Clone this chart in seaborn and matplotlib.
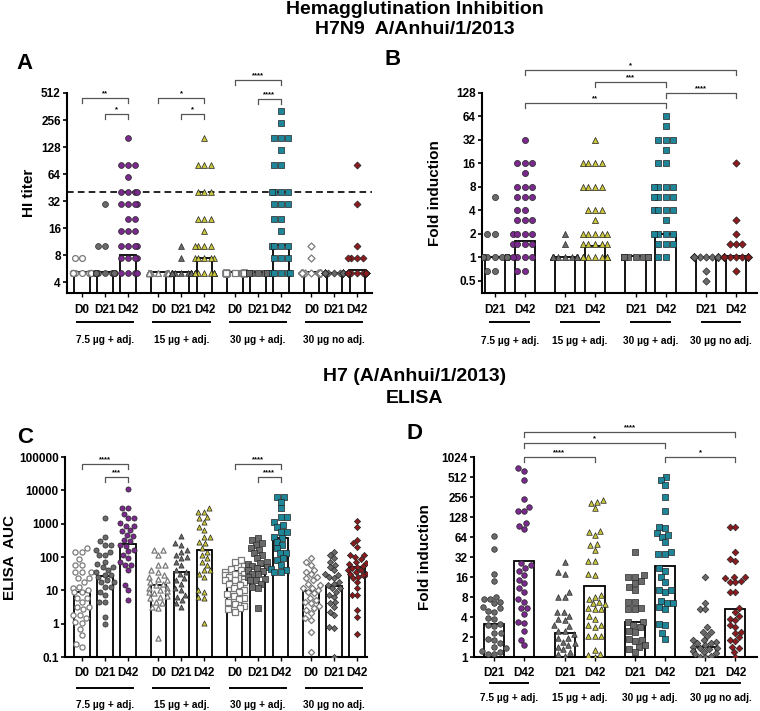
import warnings
import numpy as np
import matplotlib.pyplot as plt
import seaborn as sns
from matplotlib import transforms

warnings.filterwarnings("ignore")

GROUPS = ["7.5 µg + adj.", "15 µg + adj.", "30 µg + adj.", "30 µg no adj."]
DAYS_ABC = ["D0", "D21", "D42"]
DAYS_FOLD = ["D21", "D42"]

# ---- panel A: HI titer ----
hi_75_d0 = [7.5, 7.5, 5, 5, 5, 5, 5, 5, 5, 5, 5, 5, 5, 5, 5, 5, 5, 5, 5, 5, 5, 5, 5, 5, 5, 5, 5, 5, 5, 5]
hi_75_d21 = [30, 10, 10, 5, 5, 5, 5, 5, 5, 5, 5, 5, 5, 5, 5, 5, 5, 5, 5, 5, 5, 5, 5, 5, 5, 5, 5, 5, 5, 5]
hi_75_d42 = [160, 80, 80, 80, 60, 40, 40, 40, 40, 30, 30, 30, 30, 20, 20, 15, 15, 15, 10, 10,
             10, 10, 7.5, 7.5, 7.5, 7.5, 5, 5, 5, 5]
hi_15_d0 = [5, 5, 5, 5, 5, 5, 5, 5, 5, 5, 5, 5, 5, 5, 5, 5, 5, 5, 5, 5, 5, 5, 5, 5, 5, 5, 5, 5, 5, 5]
hi_15_d21 = [10, 7.5, 5, 5, 5, 5, 5, 5, 5, 5, 5, 5, 5, 5, 5, 5, 5, 5, 5, 5, 5, 5, 5, 5, 5, 5, 5, 5, 5, 5]
hi_15_d42 = [160, 80, 80, 80, 40, 40, 40, 20, 20, 20, 15, 10, 10, 10, 10, 7.5, 7.5, 7.5, 7.5, 7.5,
             5, 5, 5, 5, 5, 5, 5, 5, 5, 5]
hi_30_d0 = [5, 5, 5, 5, 5, 5, 5, 5, 5, 5, 5, 5, 5, 5, 5, 5, 5, 5, 5, 5, 5, 5, 5, 5, 5, 5, 5, 5, 5, 5]
hi_30_d21 = [5, 5, 5, 5, 5, 5, 5, 5, 5, 5, 5, 5, 5, 5, 5, 5, 5, 5, 5, 5, 5, 5, 5, 5, 5, 5, 5, 5, 5, 5]
hi_30_d42 = [320, 240, 160, 160, 160, 120, 80, 80, 40, 40, 40, 40, 30, 30, 30, 20, 20, 15, 10, 10,
             10, 10, 7.5, 7.5, 7.5, 5, 5, 5, 5, 5]
hi_30n_d0 = [10, 7.5, 5, 5, 5, 5, 5, 5, 5, 5, 5, 5, 5, 5, 5, 5, 5, 5, 5, 5, 5, 5, 5, 5, 5, 5, 5, 5, 5, 5]
hi_30n_d21 = [5, 5, 5, 5, 5, 5, 5, 5, 5, 5, 5, 5, 5, 5, 5, 5, 5, 5, 5, 5, 5, 5, 5, 5, 5, 5, 5, 5, 5, 5]
hi_30n_d42 = [80, 30, 10, 7.5, 7.5, 7.5, 7.5, 5, 5, 5, 5, 5, 5, 5, 5, 5, 5, 5, 5, 5, 5, 5, 5, 5, 5, 5, 5, 5, 5, 5]
hi_bars = [5.2, 5.2, 8, 5.2, 5.2, 7.4, 5.2, 5.2, 10.5, 5.2, 5.1, 5.5]

# ---- panel B: HI fold induction ----
hif_75_d21 = [6, 2, 2, 1, 1, 1, 1, 1, 1, 1, 1, 1, 1, 1, 1, 1, 1, 1, 1, 1, 1, 1, 1, 1, 1, 1, 1, 1, 0.67, 0.67]
hif_75_d42 = [32, 16, 16, 16, 12, 8, 8, 8, 6, 6, 6, 4, 4, 3, 3, 3, 2, 2, 2, 2, 1.5, 1.5, 1.5, 1.5,
              1, 1, 1, 1, 0.67, 0.67]
hif_15_d21 = [2, 1.5, 1, 1, 1, 1, 1, 1, 1, 1, 1, 1, 1, 1, 1, 1, 1, 1, 1, 1, 1, 1, 1, 1, 1, 1, 1, 1, 1, 1]
hif_15_d42 = [32, 16, 16, 16, 16, 8, 8, 8, 8, 4, 4, 4, 3, 2, 2, 2, 2, 2, 1.5, 1.5, 1.5, 1.5, 1.5,
              1, 1, 1, 1, 1, 1, 1]
hif_30_d21 = [1, 1, 1, 1, 1, 1, 1, 1, 1, 1, 1, 1, 1, 1, 1, 1, 1, 1, 1, 1, 1, 1, 1, 1, 1, 1, 1, 1, 1, 1]
hif_30_d42 = [64, 48, 32, 32, 32, 24, 16, 16, 8, 8, 8, 8, 6, 6, 6, 6, 4, 4, 4, 4, 3, 2, 2, 2, 2,
              1.5, 1.5, 1.5, 1, 1]
hif_30n_d21 = [1, 1, 1, 1, 1, 1, 1, 1, 1, 1, 1, 1, 1, 1, 1, 1, 1, 1, 1, 1, 1, 1, 1, 1, 1, 1, 1, 1, 0.67, 0.5]
hif_30n_d42 = [16, 3, 2, 1.5, 1.5, 1.5, 1, 1, 1, 1, 1, 1, 1, 1, 1, 1, 1, 1, 1, 1, 1, 1, 1, 1, 1, 1, 1, 1, 1, 0.67]
hif_bars = [1.0, 1.6, 1.0, 1.4, 1.03, 2.0, 1.0, 1.05]

# ---- panel C: ELISA AUC ----
el_75_d0 = [190, 145, 138, 85, 58, 58, 35, 35, 35, 24, 23, 18, 12, 13, 10, 8.7, 8.7, 5.8, 5.8, 4.4,
            3.2, 3.2, 2.7, 1.8, 1.8, 1.5, 1.15, 1.07, 0.7, 0.46, 0.2, 0.24]
el_75_d21 = [1500, 410, 300, 230, 230, 160, 145, 115, 115, 72, 60, 51, 50, 41, 35, 29, 29, 25, 20,
             18, 18, 13, 13, 9.1, 7.2, 4.6, 4.6, 1.6, 1.0]
el_75_d42 = [10700, 3000, 3000, 2000, 1450, 1450, 1020, 870, 870, 650, 600, 460, 430, 320, 300, 230,
             220, 160, 150, 115, 91, 72, 58, 58, 41, 14, 10, 5.1]
el_15_d0 = [162, 162, 115, 58, 58, 41, 36, 29, 26, 22, 20, 18, 15, 14.5, 12, 11.5, 10.2, 9.5, 9.1,
            8.1, 7, 6.5, 5.75, 4.6, 4.1, 3.2, 2.9, 0.38]
el_15_d21 = [430, 257, 230, 162, 145, 115, 102, 91, 72, 58, 41, 36, 32, 23, 20, 16, 11.5, 10.2,
             7.2, 6.5, 5.1, 4.1, 3.2]
el_15_d42 = [2880, 2290, 2290, 1620, 1450, 1150, 810, 650, 410, 410, 290, 257, 182, 145, 115, 91,
             72, 58, 41, 41, 32, 26, 10.2, 9.1, 6.5, 5.75, 1.02]
el_30_d0 = [80, 70, 55, 45, 40, 36, 32, 30, 28, 26, 24, 22, 20, 20, 18, 16, 14, 12, 10, 9, 8, 7,
            6, 5.5, 4.6, 4, 3.5, 3, 2.7, 2.3]
el_30_d21 = [380, 324, 257, 230, 182, 162, 129, 115, 91, 72, 65, 60, 55, 51, 46, 41, 38, 32, 30,
             26, 22, 20, 20, 16, 13, 11.5, 2.9]
el_30_d42 = [6460, 6460, 4570, 2880, 1620, 1620, 1150, 910, 810, 575, 575, 410, 363, 290, 230, 182,
             129, 129, 91, 81, 58, 45, 40, 35, 35]
el_30n_d0 = [95, 72, 58, 41, 36, 30, 26, 23, 20, 16, 14, 12, 11.5, 10.2, 9, 8.1, 6, 5, 4.6, 4.1,
             3.5, 2.9, 2.6, 2.05, 1.45, 1.3, 0.55, 0.14]
el_30n_d21 = [145, 115, 91, 72, 58, 50, 41, 32, 29, 25, 23, 18, 16, 14, 11.5, 11.5, 9, 7.2, 6.5,
              4.6, 4.1, 3.2, 2.3, 1.8, 0.78, 0.72, 0.1]
el_30n_d42 = [1200, 810, 324, 257, 204, 115, 115, 100, 90, 72, 65, 60, 55, 51, 46, 40, 40, 36, 32,
              30, 28, 26, 23, 18, 11.5, 7.2, 7.2, 2.6, 1.6, 0.5]
el_bars = [9.1, 27, 240, 14, 35, 160, 37, 55, 380, 9.6, 13.5, 49]

# ---- panel D: ELISA fold induction ----
elf_75_d21 = [67, 43, 18, 14, 8.1, 7.6, 7.6, 6.8, 6.4, 5.7, 5.4, 4.9, 4.8, 3.9, 3.8, 3.1, 3.0, 2.9,
              2.3, 2.3, 1.9, 1.8, 1.6, 1.43, 1.35, 1.23, 1.2, 1.13, 1.13]
elf_75_d42 = [690, 630, 460, 236, 183, 158, 158, 103, 95, 84, 25.7, 24, 21.6, 19.7, 17, 14.4, 12.8,
              10.8, 9.6, 7.6, 6.8, 5.5, 5.4, 4.5, 3.4, 3.2, 2.5, 1.8, 1.5]
elf_15_d21 = [27, 19, 18, 9.4, 8.1, 8.1, 4.8, 4.8, 4.2, 3.8, 3.6, 3.0, 2.9, 2.5, 2.5, 2.2, 1.95,
              1.95, 1.7, 1.6, 1.5, 1.43, 1.3, 1.2, 1.1, 1.05]
elf_15_d42 = [231, 218, 206, 173, 79, 77, 69, 51, 48.5, 41, 28, 28, 18, 17, 8.6, 8.1, 7.6, 6.8, 6.4,
              6.2, 5.4, 5.2, 5.2, 4.2, 3.8, 3.0, 3.0, 2.8, 2.1, 2.1, 2.1, 1.27, 1.13, 1.07, 1.01]
elf_30_d21 = [38, 17, 16, 16, 14, 12.8, 11.4, 10.2, 6.8, 6.8, 5.4, 5.2, 5.2, 3.4, 3.4, 3.0, 2.8,
              2.5, 2.4, 1.9, 1.8, 1.75, 1.5, 1.43, 1.3, 1.2]
elf_30_d42 = [518, 460, 388, 259, 158, 92, 88, 73, 69, 64, 53, 38.5, 35, 35, 22, 20, 16, 13.6,
              10.2, 10.2, 9.6, 7.0, 6.6, 6.4, 5.6, 5.2, 3.1, 3.0, 2.3, 1.9]
elf_30n_d21 = [16, 6.4, 5.2, 5.2, 2.8, 2.4, 2.4, 2.1, 1.8, 1.8, 1.7, 1.6, 1.6, 1.5, 1.43, 1.35,
               1.35, 1.3, 1.25, 1.2, 1.15, 1.1, 1.05, 1.0, 1.0]
elf_30n_d42 = [92, 92, 38.5, 30, 28, 16, 16, 15.3, 14, 13.6, 13.3, 9.4, 9.4, 5.4, 4.8, 4.2, 3.8,
               3.6, 3.0, 2.8, 2.4, 2.3, 2.0, 1.8, 1.75, 1.43, 1.35, 1.2, 1.0]
elf_bars = [3.1, 28, 2.3, 11.7, 3.4, 23.7, 1.41, 5.2]

GROUP_MARKERS = ["o", "^", "s", "D"]
GROUP_COLORS = ["#7a2a8c", "#c9c63c", "#1d8799", "#8c1a1e"]
MID_GRAY = "#6a6a6a"

plt.rcParams["font.family"] = ["Liberation Sans", "DejaVu Sans"]
plt.rcParams["font.weight"] = "bold"


def marker_style(day, g):
    if day == "D0":
        return "white", "#7a7a7a", 0.9
    if day == "D21":
        return MID_GRAY, "#2a2a2a", 0.5
    return GROUP_COLORS[g], "#222222", 0.5


def draw_panel(ax, series, bars, days, step, ylim, base, yticks, ylabels, size):
    nd = len(days)
    pos = [g * step + d for g in range(4) for d in range(nd)]
    ax.set_yscale("log", base=base)
    ax.bar(pos, bars, width=0.67, color="white", edgecolor="black", linewidth=1.3, zorder=1)
    for i, vals in enumerate(series):
        g, d = divmod(i, nd)
        face, edge, lw = marker_style(days[d], g)
        msize = size * 0.85 if GROUP_MARKERS[g] == "D" else size
        sns.swarmplot(x=np.full(len(vals), pos[i], dtype=float), y=vals, native_scale=True,
                      orient="x", ax=ax, marker=GROUP_MARKERS[g], color=face,
                      edgecolor=edge, linewidth=lw, size=msize, zorder=3)
    ax.set_ylim(*ylim)
    ax.set_yticks(yticks)
    ax.set_yticklabels(ylabels)
    ax.yaxis.set_minor_locator(plt.NullLocator())
    ax.set_xticks(pos)
    ax.set_xticklabels([days[i % nd] for i in range(len(pos))])
    ax.set_xlabel("")
    for s in ["top", "right"]:
        ax.spines[s].set_visible(False)
    for s in ["left", "bottom"]:
        ax.spines[s].set_linewidth(1.5)
    ax.tick_params(axis="y", labelsize=8.5, length=3, width=1.2, pad=1.5)
    ax.tick_params(axis="x", labelsize=8.5, length=3, width=1.0, pad=5)
    return pos


def group_labels(ax, pos, nd, half, line_y, text_y):
    trans = transforms.blended_transform_factory(ax.transData, ax.transAxes)
    for g in range(4):
        c = np.mean(pos[g * nd:(g + 1) * nd])
        ax.plot([c - half, c + half], [line_y, line_y], transform=trans, color="black",
                lw=1.4, clip_on=False)
        ax.text(c, text_y, GROUPS[g], transform=trans, ha="center", va="center",
                fontsize=7.3, fontweight="bold")


def bracket(ax, x1, x2, y, label, drop=5):
    # tick drop in pixels so it looks the same on every log axis
    ypx = ax.transData.transform((0, y))[1]
    ylow = ax.transData.inverted().transform((0, ypx - drop))[1]
    ax.plot([x1, x1, x2, x2], [ylow, y, y, ylow], color="#555555", lw=0.9, clip_on=False)
    ax.annotate(label, xy=((x1 + x2) / 2, y), xytext=(0, 0.5), textcoords="offset points",
                ha="center", va="bottom", fontsize=5.5, annotation_clip=False)


fig = plt.figure(figsize=(7.6, 7.11), dpi=100)
axA = fig.add_axes([0.0882, 0.5879, 0.4013, 0.2813])
axB = fig.add_axes([0.6342, 0.5879, 0.3618, 0.2813])
axC = fig.add_axes([0.0855, 0.0759, 0.3974, 0.2813])
axD = fig.add_axes([0.6237, 0.0759, 0.3724, 0.2813])

# A
pA = draw_panel(axA, [hi_75_d0, hi_75_d21, hi_75_d42, hi_15_d0, hi_15_d21, hi_15_d42,
                      hi_30_d0, hi_30_d21, hi_30_d42, hi_30n_d0, hi_30n_d21, hi_30n_d42],
                hi_bars, DAYS_ABC, 3.32, (3.03, 512), 2,
                [4, 8, 16, 32, 64, 128, 256, 512], ["4", "8", "16", "32", "64", "128", "256", "512"], 4.2)
axA.set_xlim(-0.65, 12.6)
axA.axhline(40, color="black", lw=1.2, ls=(0, (4, 2.5)), zorder=2, clip_on=False)
axA.set_ylabel("HI titer", fontsize=11, fontweight="bold")
axA.yaxis.set_label_coords(-0.103, 0.5)
group_labels(axA, pA, 3, 1.22, -0.145, -0.235)
bracket(axA, pA[0], pA[2], 446, "**")
bracket(axA, pA[1], pA[2], 300, "*")
bracket(axA, pA[3], pA[5], 446, "*")
bracket(axA, pA[4], pA[5], 300, "*")
bracket(axA, pA[6], pA[8], 715, "****")
bracket(axA, pA[7], pA[8], 438, "****")

# B
pB = draw_panel(axB, [hif_75_d21, hif_75_d42, hif_15_d21, hif_15_d42,
                      hif_30_d21, hif_30_d42, hif_30n_d21, hif_30n_d42],
                hif_bars, DAYS_FOLD, 2.35, (0.35, 128), 2,
                [0.5, 1, 2, 4, 8, 16, 32, 64, 128],
                ["0.5", "1", "2", "4", "8", "16", "32", "64", "128"], 4.4)
axB.set_xlim(-0.42, 8.75)
axB.set_ylabel("Fold induction", fontsize=11, fontweight="bold")
axB.yaxis.set_label_coords(-0.144, 0.5)
group_labels(axB, pB, 2, 0.64, -0.145, -0.24)
bracket(axB, pB[1], pB[7], 252, "*")
bracket(axB, pB[3], pB[5], 177, "***")
bracket(axB, pB[5], pB[7], 129, "****")
bracket(axB, pB[1], pB[5], 95, "**")

# C
pC = draw_panel(axC, [el_75_d0, el_75_d21, el_75_d42, el_15_d0, el_15_d21, el_15_d42,
                      el_30_d0, el_30_d21, el_30_d42, el_30n_d0, el_30n_d21, el_30n_d42],
                el_bars, DAYS_ABC, 3.32, (0.1, 100000), 10,
                [0.1, 1, 10, 100, 1000, 10000, 100000],
                ["0.1", "1", "10", "100", "1000", "10000", "100000"], 3.7)
axC.set_xlim(-0.74, 12.4)
axC.set_ylabel("ELISA  AUC", fontsize=11, fontweight="bold")
axC.yaxis.set_label_coords(-0.158, 0.5)
axC.tick_params(axis="x", pad=4)
group_labels(axC, pC, 3, 1.22, -0.153, -0.238)
bracket(axC, pC[0], pC[2], 60000, "****")
bracket(axC, pC[1], pC[2], 24600, "***")
bracket(axC, pC[6], pC[8], 60000, "****")
bracket(axC, pC[7], pC[8], 24600, "****")

# D
pD = draw_panel(axD, [elf_75_d21, elf_75_d42, elf_15_d21, elf_15_d42,
                      elf_30_d21, elf_30_d42, elf_30n_d21, elf_30n_d42],
                elf_bars, DAYS_FOLD, 2.35, (1, 1024), 2,
                [1, 2, 4, 8, 16, 32, 64, 128, 256, 512, 1024],
                ["1", "2", "4", "8", "16", "32", "64", "128", "256", "512", "1024"], 4.0)
axD.set_xlim(-0.67, 8.77)
axD.set_ylabel("Fold induction", fontsize=11, fontweight="bold")
axD.yaxis.set_label_coords(-0.147, 0.5)
axD.tick_params(axis="x", pad=4)
group_labels(axD, pD, 2, 0.64, -0.13, -0.205)
bracket(axD, pD[1], pD[7], 2435, "****")
bracket(axD, pD[1], pD[5], 1647, "*")
bracket(axD, pD[1], pD[3], 1024, "****")
bracket(axD, pD[5], pD[7], 1024, "*")

# titles and panel letters
fig.text(0.546, 0.986, "Hemagglutination Inhibition", ha="center", va="center", fontsize=14, fontweight="bold")
fig.text(0.546, 0.959, "H7N9  A/Anhui/1/2013", ha="center", va="center", fontsize=14, fontweight="bold")
fig.text(0.546, 0.471, "H7 (A/Anhui/1/2013)", ha="center", va="center", fontsize=14, fontweight="bold")
fig.text(0.546, 0.439, "ELISA", ha="center", va="center", fontsize=14, fontweight="bold")
for letter, x, y in [("A", 0.032, 0.911), ("B", 0.517, 0.917), ("C", 0.033, 0.385), ("D", 0.546, 0.39)]:
    fig.text(x, y, letter, ha="center", va="center", fontsize=16, fontweight="bold")

fig.savefig("out.png", dpi=100)
